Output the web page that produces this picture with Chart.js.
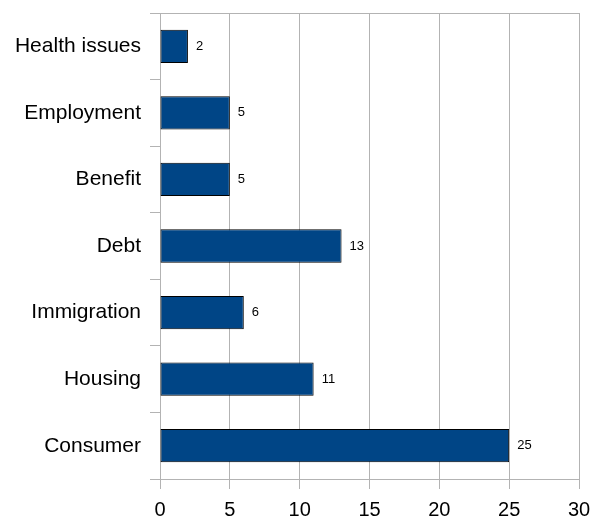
<!DOCTYPE html>
<html>
<head>
<meta charset="utf-8">
<script src="https://cdn.jsdelivr.net/npm/chart.js@4/dist/chart.umd.min.js"></script>
<style>
  html, body { margin: 0; padding: 0; background: #fff; }
  canvas { display: block; }
</style>
</head>
<body>
<canvas id="casesChart" width="593" height="518"></canvas>
<script>
const categories = ["Health issues", "Employment", "Benefit", "Debt", "Immigration", "Housing", "Consumer"];
const caseCounts = [2, 5, 5, 13, 6, 11, 25];
const xTicks = [0, 5, 10, 15, 20, 25, 30];

const gridGray = "#b3b3b3";
const fontFamily = "'Liberation Sans', Arial, sans-serif";

// number printed just past the end of each bar
const valueLabels = {
  id: "valueLabels",
  afterDatasetsDraw(chart) {
    const ctx = chart.ctx;
    ctx.save();
    ctx.font = "13px " + fontFamily;
    ctx.fillStyle = "#000";
    ctx.textBaseline = "middle";
    ctx.textAlign = "left";
    chart.getDatasetMeta(0).data.forEach((bar, i) => {
      ctx.fillText(String(caseCounts[i]), bar.x + 8, bar.y);
    });
    ctx.restore();
  },
};

// fixed axis sizes so the plot box doesn't shift with label overhang
function noOverhang(scale) {
  scale.paddingLeft = 0;
  scale.paddingRight = 0;
  scale.paddingTop = 0;
  scale.paddingBottom = 0;
}

new Chart(document.getElementById("casesChart"), {
  type: "bar",
  data: {
    labels: categories,
    datasets: [
      {
        data: caseCounts,
        backgroundColor: "#004586",
        borderColor: "#000",
        borderWidth: 1,
        borderSkipped: false,
        categoryPercentage: 1,
        barPercentage: 0.5,
      },
    ],
  },
  options: {
    indexAxis: "y",
    responsive: false,
    animation: false,
    layout: { padding: { top: 13, right: 14, left: 0, bottom: 0 } },
    plugins: {
      legend: { display: false },
      tooltip: { enabled: false },
    },
    scales: {
      x: {
        min: 0,
        max: 30,
        afterBuildTicks: (scale) => {
          scale.ticks = xTicks.map((v) => ({ value: v }));
        },
        afterFit: (scale) => {
          scale.height = 39;
          noOverhang(scale);
        },
        grid: { color: gridGray, tickColor: gridGray, tickLength: 10, lineWidth: 1 },
        border: { display: true, color: gridGray },
        ticks: {
          color: "#000",
          padding: 11,
          font: { family: fontFamily, size: 20, lineHeight: 1 },
        },
      },
      y: {
        offset: true,
        afterFit: (scale) => {
          scale.width = 160;
          noOverhang(scale);
        },
        grid: {
          offset: true,
          tickLength: 10,
          tickColor: gridGray,
          color: (ctx) => (ctx.index === 0 ? gridGray : "transparent"),
        },
        border: { display: true, color: gridGray },
        ticks: {
          color: "#000",
          padding: 9,
          font: { family: fontFamily, size: 21, lineHeight: 1 },
        },
      },
    },
  },
  plugins: [valueLabels],
});
</script>
</body>
</html>
